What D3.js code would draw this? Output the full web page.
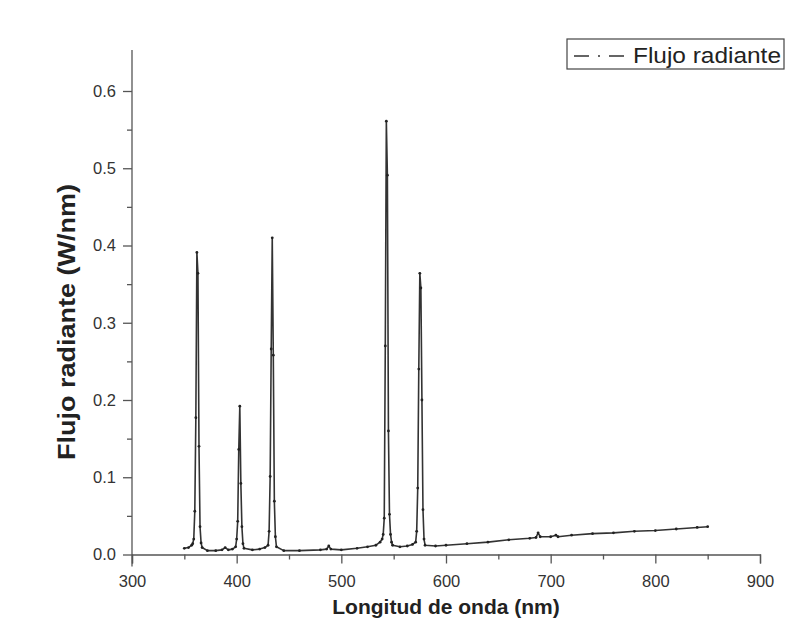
<!DOCTYPE html>
<html>
<head>
<meta charset="utf-8">
<script src="https://cdn.jsdelivr.net/npm/d3@7"></script>
<style>
  body { margin: 0; background: #fff; }
  text { font-family: "Liberation Sans", Arial, sans-serif; }
</style>
</head>
<body>
<svg id="drawing_region"></svg>
<script>
// wavelength (nm) and radiant flux (W/nm)
const wavelength = [
  350, 354, 357, 358, 359, 360, 361, 362, 363, 364, 365, 366, 367,
  372, 380, 386, 389, 392, 396,
  399, 400, 401, 402, 403, 404, 405, 406, 407,
  415, 422, 427,
  430, 431, 432, 433, 434, 435, 436, 437, 438,
  445, 460, 480, 486, 488, 490, 500, 515, 525, 533, 537,
  539, 540, 541, 542, 543, 544, 545, 546, 547, 548, 549,
  556, 563, 568,
  571, 572, 573, 574, 575, 576, 577, 578, 579, 580,
  590, 600, 620, 640, 660, 680, 686, 688, 690, 700, 705, 707,
  720, 740, 760, 780, 800, 820, 840, 850
]
const flux = [
  0.008, 0.009, 0.012, 0.014, 0.020, 0.056, 0.177, 0.391, 0.364, 0.140, 0.036, 0.015, 0.009,
  0.005, 0.005, 0.006, 0.009, 0.006, 0.007,
  0.010, 0.020, 0.043, 0.136, 0.192, 0.092, 0.036, 0.014, 0.008,
  0.006, 0.007, 0.009,
  0.012, 0.030, 0.101, 0.266, 0.410, 0.258, 0.069, 0.023, 0.010,
  0.005, 0.005, 0.006, 0.007, 0.011, 0.007, 0.006, 0.008, 0.010, 0.012, 0.016,
  0.020, 0.026, 0.047, 0.270, 0.561, 0.491, 0.160, 0.052, 0.026, 0.016, 0.012,
  0.010, 0.011, 0.013,
  0.016, 0.030, 0.086, 0.240, 0.364, 0.345, 0.200, 0.058, 0.020, 0.012,
  0.011, 0.012, 0.014, 0.016, 0.019, 0.021, 0.022, 0.028, 0.023, 0.023, 0.025, 0.023,
  0.025, 0.027, 0.028, 0.030, 0.031, 0.033, 0.035, 0.036
]
const xTicks = [300, 400, 500, 600, 700, 800, 900]
const xMinor = [350, 450, 550, 650, 750, 850]
const yTicks = [0.0, 0.1, 0.2, 0.3, 0.4, 0.5, 0.6]
const yMinor = [0.05, 0.15, 0.25, 0.35, 0.45, 0.55]
const seriesName = 'Flujo radiante'

const width = 798, height = 635
const svg = d3.select('#drawing_region').attr('width', width).attr('height', height)

const x = d3.scaleLinear().domain([300, 900]).range([132, 760])
const y = d3.scaleLinear().domain([0, 0.6]).range([554.5, 91])

const axisColor = '#555'

// x axis
const gx = svg.append('g').attr('transform', `translate(0,${y(0)})`)
gx.call(d3.axisBottom(x).tickValues(xTicks).tickSize(9).tickPadding(12).tickFormat(d3.format('d')))
gx.append('g').call(d3.axisBottom(x).tickValues(xMinor).tickSize(5).tickFormat(''))
  .select('.domain').remove()

// y axis, line runs a bit above the last tick
const gy = svg.append('g').attr('transform', `translate(${x(300)},0)`)
gy.call(d3.axisLeft(y).tickValues(yTicks).tickSize(9).tickPadding(7).tickFormat(d3.format('.1f')))
gy.append('g').call(d3.axisLeft(y).tickValues(yMinor).tickSize(5).tickFormat(''))
  .select('.domain').remove()
gy.select('.domain').attr('d', `M0,${y(0) + 12}V${y(0.653)}`)

svg.selectAll('.domain, .tick line').attr('stroke', axisColor).attr('stroke-width', 1.3)
svg.selectAll('.tick text').attr('font-size', 16.5).attr('fill', '#333')
  .style('font-family', '"Liberation Sans", Arial, sans-serif')

// axis titles
svg.append('text')
  .attr('x', 446).attr('y', 614)
  .attr('text-anchor', 'middle')
  .attr('font-size', 21).attr('font-weight', 'bold').attr('fill', '#222')
  .text('Longitud de onda (nm)')

svg.append('text')
  .attr('transform', 'translate(75,322) rotate(-90)')
  .attr('text-anchor', 'middle')
  .attr('font-size', 23).attr('font-weight', 'bold').attr('fill', '#222')
  .attr('textLength', 276).attr('lengthAdjust', 'spacingAndGlyphs')
  .text('Flujo radiante (W/nm)')

// spectrum
const data = wavelength.map((w, i) => ({w: w, v: flux[i]}))
const line = d3.line().x(d => x(d.w)).y(d => y(d.v))

svg.append('path')
  .datum(data)
  .attr('d', line)
  .attr('fill', 'none')
  .attr('stroke', '#333')
  .attr('stroke-width', 1.6)
  .attr('stroke-linejoin', 'round')

svg.append('g').selectAll('circle').data(data).enter()
  .append('circle')
  .attr('cx', d => x(d.w))
  .attr('cy', d => y(d.v))
  .attr('r', 1.4)
  .attr('fill', '#222')

// legend
const lg = svg.append('g')
lg.append('rect')
  .attr('x', 567).attr('y', 39).attr('width', 217).attr('height', 30)
  .attr('fill', 'white').attr('stroke', '#444').attr('stroke-width', 1.2)
lg.append('line')
  .attr('x1', 574).attr('x2', 627).attr('y1', 56).attr('y2', 56)
  .attr('stroke', '#333').attr('stroke-width', 1.3)
  .attr('stroke-dasharray', '15,9,2,9,15')
lg.append('text')
  .attr('x', 633).attr('y', 63)
  .attr('font-size', 22).attr('fill', '#222')
  .attr('textLength', 148).attr('lengthAdjust', 'spacingAndGlyphs')
  .text(seriesName)
</script>
</body>
</html>
